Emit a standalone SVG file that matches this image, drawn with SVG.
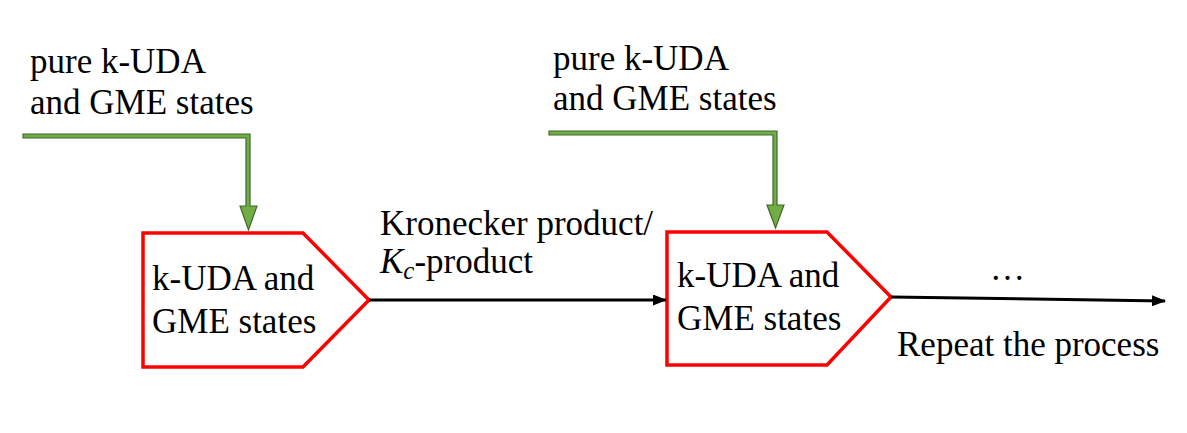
<svg xmlns="http://www.w3.org/2000/svg" width="1187" height="433" viewBox="0 0 1187 433">
<style>
text{font-family:"Liberation Serif","Times New Roman",serif;font-size:35px;fill:#000}
.node{fill:#fff;stroke:#ff0000;stroke-width:3.5}
.green{fill:#70ad47;stroke:#41692a;stroke-width:1.2}
.conn{stroke:#000;stroke-width:3;fill:none}
</style>
<defs>
<marker id="ah" markerWidth="14" markerHeight="11" refX="13" refY="5.5" orient="auto" markerUnits="userSpaceOnUse" viewBox="0 0 14 11">
<path d="M0,0 L14,5.5 L0,11 z" fill="#000"/>
</marker>
</defs>
<g id="input1">
<path class="green" d="M23,134 L250,134 L250,206 L257,206 L248.5,230 L240,206 L246,206 L246,138 L23,138 z"/>
<text x="30" y="73">pure k-UDA</text>
<text x="30" y="114">and GME states</text>
</g>
<g id="input2">
<path class="green" d="M549,131 L777,131 L777,205 L784,205 L775.5,228 L767,205 L773,205 L773,135 L549,135 z"/>
<text x="553" y="70">pure k-UDA</text>
<text x="553" y="110">and GME states</text>
</g>
<g id="node1">
<path class="node" d="M143,233 L303,233 L369,300 L303,367 L143,367 z"/>
<text x="152" y="290">k-UDA and</text>
<text x="152" y="333">GME states</text>
</g>
<g id="node2">
<path class="node" d="M667,232 L827,232 L891,297 L827,365 L667,365 z"/>
<text x="677" y="287">k-UDA and</text>
<text x="677" y="330">GME states</text>
</g>
<g id="connectors">
<line class="conn" x1="369" y1="300" x2="666" y2="300" marker-end="url(#ah)"/>
<line class="conn" x1="891" y1="297" x2="1165" y2="301" marker-end="url(#ah)"/>
</g>
<g id="labels">
<text x="380" y="235">Kronecker product/</text>
<text x="380" y="273"><tspan font-style="italic">K</tspan><tspan font-style="italic" font-size="25" dy="6">c</tspan><tspan dy="-6">-product</tspan></text>
<text x="990" y="280">…</text>
<text x="897" y="356">Repeat the process</text>
</g>
</svg>
